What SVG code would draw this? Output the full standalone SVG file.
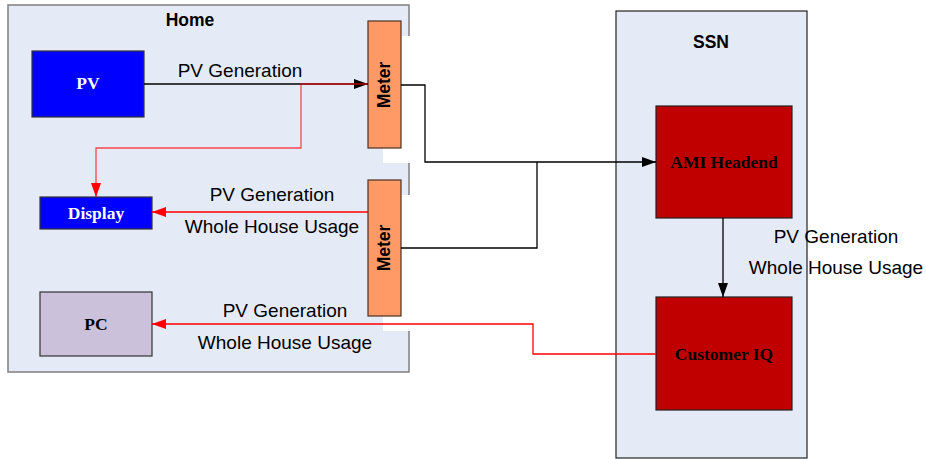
<svg xmlns="http://www.w3.org/2000/svg" width="926" height="459" viewBox="0 0 926 459">
<defs>
<style>
.lbl{font-family:"Liberation Sans",Arial,sans-serif;font-size:19px;fill:#000;text-anchor:middle}
.ttl{font-family:"Liberation Sans",Arial,sans-serif;font-size:17.5px;font-weight:bold;fill:#000;text-anchor:middle}
.nd{font-family:"Liberation Serif","Times New Roman",serif;font-size:17.5px;font-weight:bold;text-anchor:middle}
.blk{fill:none;stroke:#000;stroke-width:1.3}
.red{fill:none;stroke:#ff0000;stroke-width:1.3}
</style>
<marker id="ab" viewBox="0 0 14 10" refX="14" refY="5" markerWidth="14" markerHeight="10" markerUnits="userSpaceOnUse" orient="auto">
<path d="M0,0 L14,5 L0,10 Z" fill="#000"/>
</marker>
<marker id="ar" viewBox="0 0 14 10" refX="14" refY="5" markerWidth="14" markerHeight="10" markerUnits="userSpaceOnUse" orient="auto">
<path d="M0,0 L14,5 L0,10 Z" fill="#ff0000"/>
</marker>
</defs>

<g id="home">
<rect x="8" y="5" width="401" height="367" fill="#e5ebf6" stroke="#7f7f7f" stroke-width="1.5"/>
<text class="ttl" x="190" y="26" font-size="18">Home</text>
</g>

<g id="ssn">
<rect x="616" y="11" width="191" height="447" fill="#e5ebf6" stroke="#222" stroke-width="1.2"/>
<text class="ttl" x="711" y="48">SSN</text>
</g>

<g id="meter1">
<rect x="383" y="36" width="33" height="127" fill="#fff"/>
<rect x="368" y="21" width="33" height="127" fill="#ff9966" stroke="#4a3020" stroke-width="1.2"/>
<text class="ttl" font-size="16.5" transform="translate(390,85) rotate(-90)">Meter</text>
</g>

<g id="meter2">
<rect x="383" y="195" width="33" height="136" fill="#fff"/>
<rect x="368" y="180" width="33" height="136" fill="#ff9966" stroke="#4a3020" stroke-width="1.2"/>
<text class="ttl" font-size="16.5" transform="translate(390,248) rotate(-90)">Meter</text>
</g>

<g id="pv">
<rect x="32" y="51" width="112" height="66" fill="#0000ff" stroke="#333" stroke-width="1.2"/>
<text class="nd" x="88" y="89" fill="#fff">PV</text>
</g>

<g id="display">
<rect x="40" y="197" width="112" height="32" fill="#0000ff" stroke="#333" stroke-width="1.2"/>
<text class="nd" x="96" y="219" fill="#fff">Display</text>
</g>

<g id="pc">
<rect x="40" y="292" width="112" height="64" fill="#ccc1da" stroke="#333" stroke-width="1.2"/>
<text class="nd" x="96" y="330" fill="#000">PC</text>
</g>

<g id="ami">
<rect x="656" y="106" width="136" height="112" fill="#c00000" stroke="#222" stroke-width="1.2"/>
<text class="nd" x="724" y="168" fill="#000">AMI Headend</text>
</g>

<g id="customeriq">
<rect x="656" y="297" width="136" height="113" fill="#c00000" stroke="#222" stroke-width="1.2"/>
<text class="nd" x="724" y="360" fill="#000">Customer IQ</text>
</g>

<g id="connectors">
<path class="blk" d="M144,84 H368" marker-end="url(#ab)"/>
<path class="red" d="M367,84 H301 V148 H96 V197" marker-end="url(#ar)" stroke-opacity="0.7"/>
<path class="red" d="M368,212 H152" marker-end="url(#ar)"/>
<path class="blk" d="M401,85 H425 V162 H656" marker-end="url(#ab)"/>
<path class="blk" d="M401,248 H537 V162"/>
<path class="blk" d="M723,218 V297" marker-end="url(#ab)"/>
<path class="red" d="M656,354 H533 V324 H152" marker-end="url(#ar)"/>
</g>

<g id="labels">
<text class="lbl" x="240" y="77">PV Generation</text>
<text class="lbl" x="272" y="201">PV Generation</text>
<text class="lbl" x="272" y="233">Whole House Usage</text>
<text class="lbl" x="285" y="317">PV Generation</text>
<text class="lbl" x="285" y="349">Whole House Usage</text>
<text class="lbl" x="836" y="243">PV Generation</text>
<text class="lbl" x="836" y="274">Whole House Usage</text>
</g>
</svg>
